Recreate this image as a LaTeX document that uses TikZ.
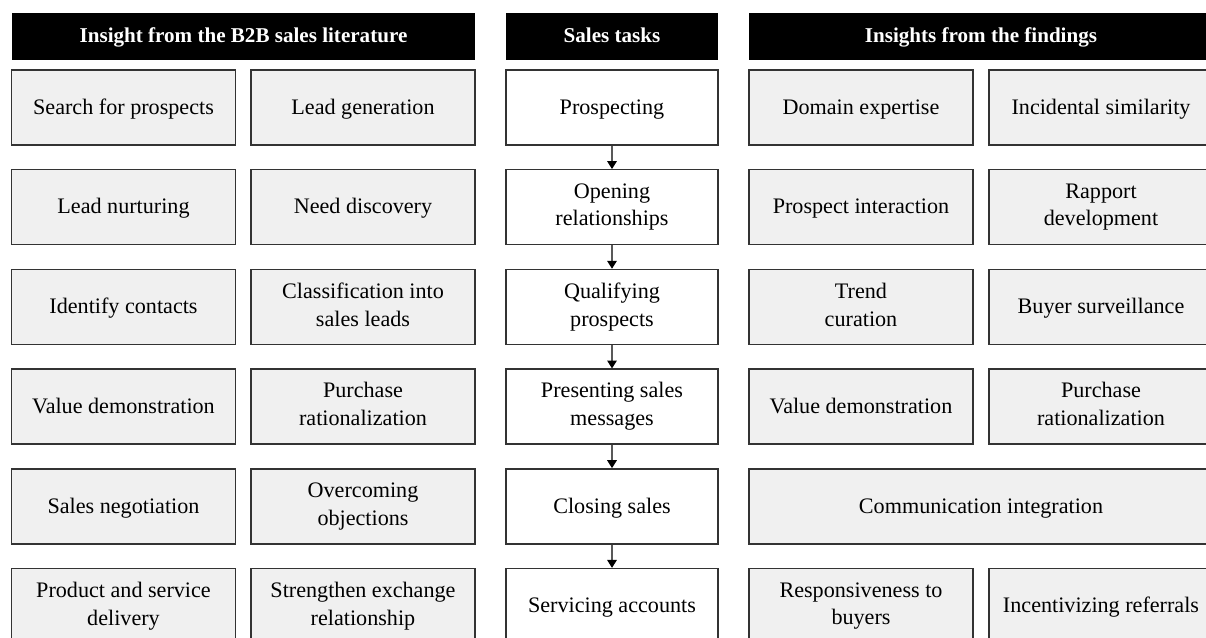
\documentclass[tikz,border=0pt]{standalone}
\usepackage{fontspec}
\setmainfont{Liberation Serif}
\usetikzlibrary{arrows.meta}

% struts so that every box centres its text the same way
\newcommand{\topstrut}[1]{\rule{0pt}{#1}}
\newcommand{\botstrut}[1]{\rule[-#1]{0pt}{#1}}

\tikzset{
  base/.style={draw=black!80, line width=0.8pt, align=center, inner sep=2pt,
    font=\fontsize{12.6}{15.8}\selectfont,
    execute at begin node={\topstrut{10.5pt}},
    execute at end node={\botstrut{2.8pt}}},
  lit/.style={base, fill=black!6, minimum width=4.48cm, minimum height=1.5cm},
  wide/.style={lit, minimum width=9.28cm},
  task/.style={base, fill=white, minimum width=4.24cm, minimum height=1.5cm},
  head/.style={fill=black, text=white, minimum height=0.94cm, inner sep=0pt,
    font=\fontsize{12}{14}\selectfont\bfseries,
    execute at begin node={\topstrut{9.7pt}},
    execute at end node={\botstrut{2.6pt}}},
  flow/.style={draw=black!65, line width=0.6pt,
    -{Triangle[length=4.5pt,width=5.5pt,color=black]}},
}

\begin{document}
\begin{tikzpicture}[x=0.02cm, y=-0.02cm]
  \useasboundingbox (0,0) rectangle (1206,637);

  % column headings
  \node[head, minimum width=9.26cm] (hlit) at (243.5,36.5) {Insight from the B2B sales literature};
  \node[head, minimum width=4.24cm] (htask) at (612,36.5) {Sales tasks};
  \node[head, minimum width=9.28cm] (hfind) at (981,36.5) {Insights from the findings};

  % literature (left)
  \node[lit] (l1a) at (123.5,107.5) {Search for prospects};
  \node[lit] (l1b) at (363,107.5) {Lead generation};
  \node[lit] (l2a) at (123.5,207.2) {Lead nurturing};
  \node[lit] (l2b) at (363,207.2) {Need discovery};
  \node[lit] (l3a) at (123.5,306.9) {Identify contacts};
  \node[lit] (l3b) at (363,306.9) {Classification into\\sales leads};
  \node[lit] (l4a) at (123.5,406.6) {Value demonstration};
  \node[lit] (l4b) at (363,406.6) {Purchase\\rationalization};
  \node[lit] (l5a) at (123.5,506.3) {Sales negotiation};
  \node[lit] (l5b) at (363,506.3) {Overcoming\\objections};
  \node[lit] (l6a) at (123.5,606) {Product and service\\delivery};
  \node[lit] (l6b) at (363,606) {Strengthen exchange\\relationship};

  % sales tasks (middle)
  \node[task] (t1) at (612,107.5) {Prospecting};
  \node[task] (t2) at (612,207.2) {Opening\\relationships};
  \node[task] (t3) at (612,306.9) {Qualifying\\prospects};
  \node[task] (t4) at (612,406.6) {Presenting sales\\messages};
  \node[task] (t5) at (612,506.3) {Closing sales};
  \node[task] (t6) at (612,606) {Servicing accounts};
  \foreach \a/\b in {t1/t2, t2/t3, t3/t4, t4/t5, t5/t6}
    \draw[flow] (\a.south) -- (\b.north);

  % findings (right)
  \node[lit] (f1a) at (861,107.5) {Domain expertise};
  \node[lit] (f1b) at (1101,107.5) {Incidental similarity};
  \node[lit] (f2a) at (861,207.2) {Prospect interaction};
  \node[lit] (f2b) at (1101,207.2) {Rapport\\development};
  \node[lit] (f3a) at (861,306.9) {Trend\\curation};
  \node[lit] (f3b) at (1101,306.9) {Buyer surveillance};
  \node[lit] (f4a) at (861,406.6) {Value demonstration};
  \node[lit] (f4b) at (1101,406.6) {Purchase\\rationalization};
  \node[wide] (f5) at (981,506.3) {Communication integration};
  \node[lit] (f6a) at (861,606) {Responsiveness to\\buyers};
  \node[lit] (f6b) at (1101,606) {Incentivizing referrals};
\end{tikzpicture}
\end{document}
